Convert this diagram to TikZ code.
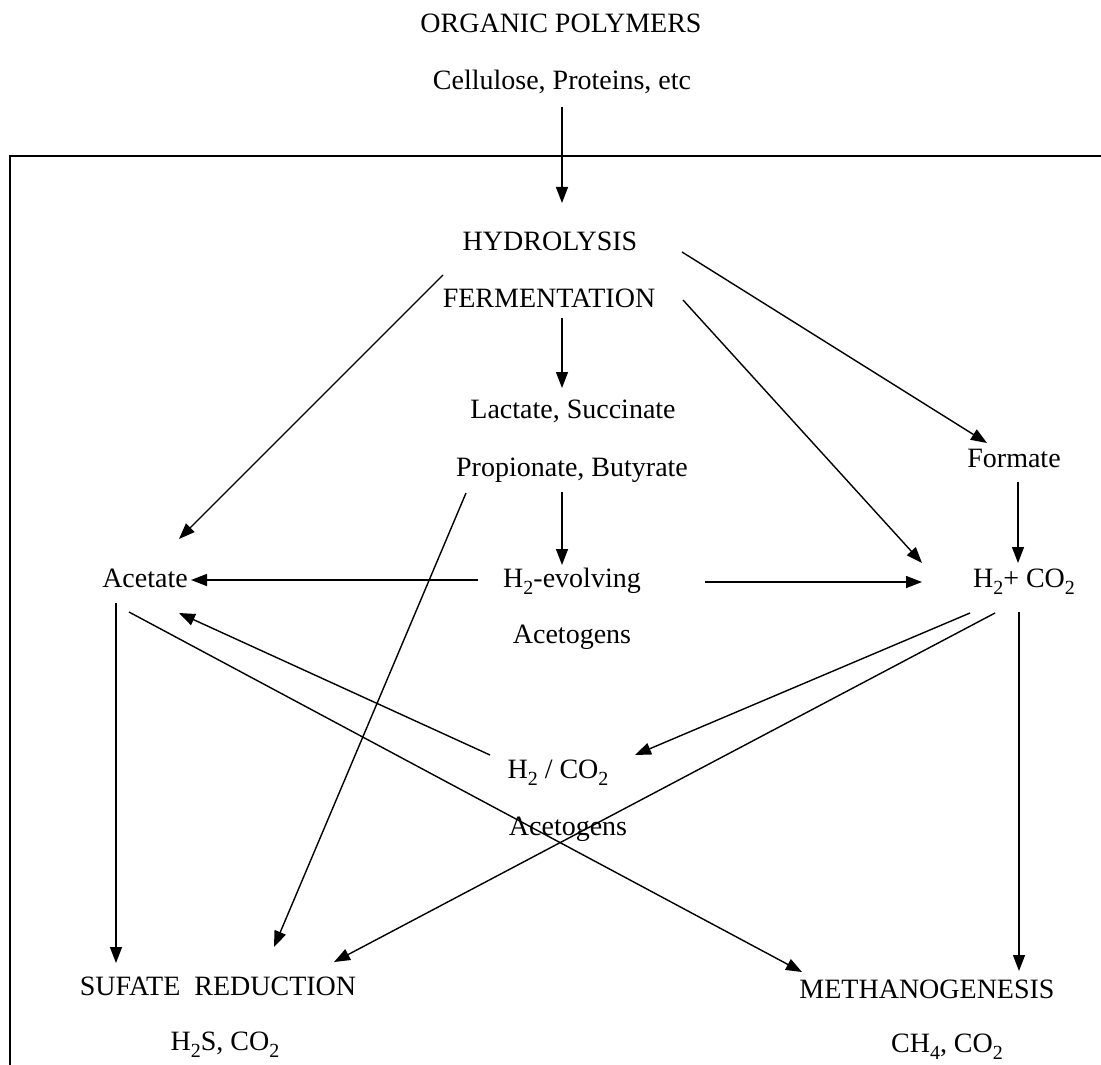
\documentclass[tikz,border=0pt]{standalone}
\usepackage{fontspec}
\setmainfont{Liberation Serif}
\usepackage{tikz}
\usetikzlibrary{arrows.meta}

\newcommand{\lowsub}[1]{\raisebox{-3.5pt}{\fontsize{10}{11}\selectfont #1}}

\tikzset{
  lbl/.style={font=\fontsize{14}{16}\selectfont, inner sep=0pt, anchor=base},
  arr/.style={-{Triangle[length=8pt,width=6pt]}, line width=0.7pt}
}

\begin{document}
\begin{tikzpicture}[x=0.5pt, y=-0.5pt]
    \useasboundingbox (0, 0) rectangle (1101, 1064);
    \draw[line width=1pt] (10, 1080) -- (10, 156) -- (1120, 156);

    \node[lbl] (org) at (561, 33) {ORGANIC POLYMERS};
    \node[lbl] (cell) at (562, 90) {Cellulose, Proteins, etc};
    \node[lbl] (hyd) at (550, 250) {HYDROLYSIS};
    \node[lbl] (ferm) at (549, 307) {FERMENTATION};
    \node[lbl] (lac) at (573, 418) {Lactate, Succinate};
    \node[lbl] (prop) at (572, 476) {Propionate, Butyrate};
    \node[lbl] (form) at (1014, 467) {Formate};
    \node[lbl] (acet) at (145, 587) {Acetate};
    \node[lbl] (h2ev) at (572, 587) {H\lowsub{2}-evolving};
    \node[lbl] (acg1) at (572, 643) {Acetogens};
    \node[lbl] (h2co2) at (1024, 587) {H\lowsub{2}+ CO\lowsub{2}};
    \node[lbl] (hco) at (558, 778) {H\lowsub{2} / CO\lowsub{2}};
    \node[lbl] (acg2) at (568, 835) {Acetogens};
    \node[lbl] (sr) at (218, 995) {SUFATE\ \ REDUCTION};
    \node[lbl] (h2s) at (225, 1050) {H\lowsub{2}S, CO\lowsub{2}};
    \node[lbl] (meth) at (927, 998) {METHANOGENESIS};
    \node[lbl] (ch4) at (947, 1052) {CH\lowsub{4}, CO\lowsub{2}};

    \draw[arr] ([shift={(0,17)}]cell.base) -- ([shift={(12,-47)}]hyd.base);
    \draw[arr] ([shift={(-107,25)}]hyd.base) -- ([shift={(34,-48)}]acet.base);
    \draw[arr] ([shift={(132,2)}]hyd.base) -- ([shift={(-27,-24)}]form.base);
    \draw[arr] ([shift={(134,-7)}]ferm.base) -- ([shift={(-102,-24)}]h2co2.base);
    \draw[arr] ([shift={(13,11)}]ferm.base) -- ([shift={(-11,-30)}]lac.base);
    \draw[arr] ([shift={(-10,16)}]prop.base) -- ([shift={(-10,-22)}]h2ev.base);
    \draw[arr] ([shift={(-106,17)}]prop.base) -- ([shift={(56,-48)}]sr.base);
    \draw[arr] ([shift={(-94,-7)}]h2ev.base) -- ([shift={(46,-7)}]acet.base);
    \draw[arr] ([shift={(133,-5)}]h2ev.base) -- ([shift={(-102,-5)}]h2co2.base);
    \draw[arr] ([shift={(4,15)}]form.base) -- ([shift={(-6,-24)}]h2co2.base);
    \draw[arr] ([shift={(-54,26)}]h2co2.base) -- ([shift={(77,-23)}]hco.base);
    \draw[arr] ([shift={(-29,26)}]h2co2.base) -- ([shift={(116,-33)}]sr.base);
    \draw[arr] ([shift={(-5,25)}]h2co2.base) -- ([shift={(92,-27)}]meth.base);
    \draw[arr] ([shift={(-68,-23)}]hco.base) -- ([shift={(34,26)}]acet.base);
    \draw[arr] ([shift={(-29,16)}]acet.base) -- ([shift={(-102,-32)}]sr.base);
    \draw[arr] ([shift={(-16,25)}]acet.base) -- ([shift={(-125,-26)}]meth.base);
\end{tikzpicture}
\end{document}
